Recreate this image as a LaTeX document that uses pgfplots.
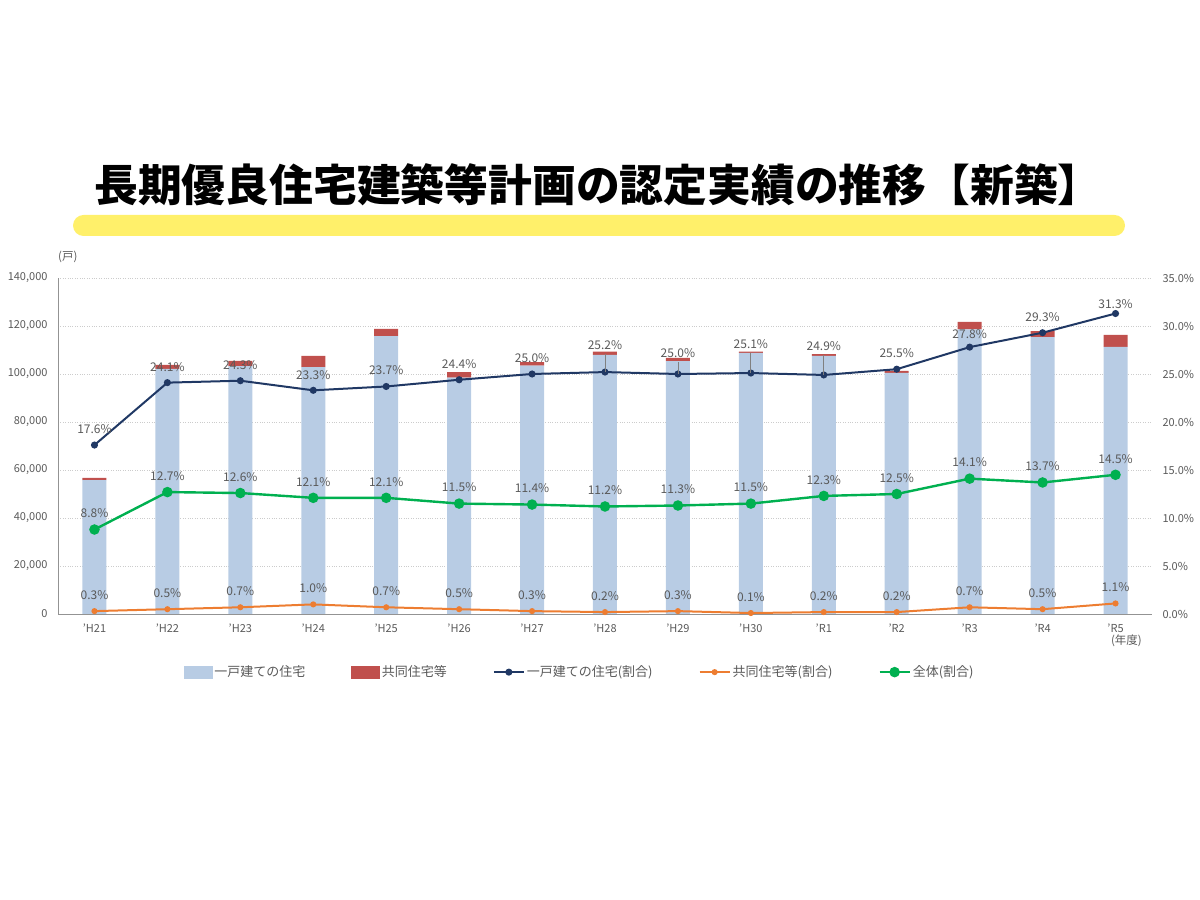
\documentclass[border=0pt]{standalone}
\usepackage{fontspec}
\setmainfont{Noto Sans CJK JP}
\usepackage{pgfplots}
\pgfplotsset{compat=1.18}
\usepackage{pgfplotstable}

\definecolor{barblue}{HTML}{B8CCE4}
\definecolor{barred}{HTML}{C0504D}
\definecolor{navy}{HTML}{203864}
\definecolor{orng}{HTML}{ED7D31}
\definecolor{grn}{HTML}{00B050}
\definecolor{txtgray}{HTML}{595959}
\definecolor{hl}{HTML}{FFF06A}

% x detached multi pdet dy lead pmul pall
\pgfplotstableread{
x detached multi pdet dy lead pmul pall
0  55800  900 17.6  7 0 0.3  8.8
1 102100 1650 24.1  7 0 0.5 12.7
2 103300 2200 24.3  7 0 0.7 12.6
3 102900 4600 23.3  6 0 1.0 12.1
4 115800 3000 23.7  7 0 0.7 12.1
5  98500 2300 24.4  7 0 0.5 11.5
6 103500 1400 25.0  7 0 0.3 11.4
7 108000 1300 25.2 18 1 0.2 11.2
8 105400 1300 25.0 12 1 0.3 11.3
9 108750  550 25.1 20 1 0.1 11.5
10 107500 800 24.9 20 1 0.2 12.3
11 100500 850 25.5  7 0 0.2 12.5
12 118600 3100 27.8 4 0 0.7 14.1
13 115400 2500 29.3 7 0 0.5 13.7
14 111250 5000 31.3 1 0 1.1 14.5
}\data

\pgfplotsset{
  base/.style={
    at={(58pt,286pt)}, anchor=south west, scale only axis,
    width=1094pt, height=336pt,
    xmin=-0.5, xmax=14.5, clip=false,
    major tick length=0pt,
    /pgf/number format/assume math mode=true,
    ticklabel style={font=\fontsize{11}{13}\selectfont, text=txtgray},
  },
  lbl/.style={
    point meta=y, nodes near coords={\pgfmathprintnumber[fixed,fixed zerofill,precision=1,assume math mode=true]{\pgfplotspointmeta}\%},
    every node near coord/.append style={font=\fontsize{12}{14}\selectfont, text=txtgray, yshift=7pt},
  },
}

\begin{document}
\begin{tikzpicture}
\path (0pt,0pt) rectangle (1200pt,900pt);
\fill[hl, rounded corners=10.5pt] (73pt,664pt) rectangle (1125pt,685pt);
\node[font=\fontsize{43.8}{47}\selectfont\bfseries] at (598pt,715pt) {長期優良住宅建築等計画の認定実績の推移【新築】};

\begin{axis}[base,
  ymin=0, ymax=140000,
  ybar stacked, bar width=24pt,
  axis x line*=bottom, axis y line*=left,
  axis line style={-, draw=gray!85, line width=0.9pt},
  ytick={0,20000,...,140000},
  yticklabel={\pgfmathprintnumber[fixed,precision=0,1000 sep={,},assume math mode=true]{\tick}},
  yticklabel style={xshift=-7pt},
  scaled y ticks=false,
  ymajorgrids, grid style={dotted, gray!40, line width=0.8pt},
  xtick={0,...,14},
  xticklabels={'H21,'H22,'H23,'H24,'H25,'H26,'H27,'H28,'H29,'H30,'R1,'R2,'R3,'R4,'R5},
  xticklabel style={yshift=-6pt},
]
\addplot[fill=barblue, draw=none] table[x=x, y=detached]{\data};
\addplot[fill=barred, draw=none] table[x=x, y=multi]{\data};
\node[font=\fontsize{11.5}{13}\selectfont, text=txtgray] at (rel axis cs:0.009,1) [yshift=21pt] {(戸)};
\node[font=\fontsize{11.5}{13}\selectfont, text=txtgray] at (axis cs:14.15,0) [yshift=-27pt] {(年度)};
\end{axis}

\begin{axis}[base,
  ymin=0, ymax=35,
  axis x line=none, axis y line*=right,
  y axis line style={draw=none},
  ytick={0,5,...,35},
  yticklabel={\pgfmathprintnumber[fixed,fixed zerofill,precision=1,assume math mode=true]{\tick}\%},
  yticklabel style={xshift=7pt},
  legend columns=5,
  legend style={draw=none, fill=none, at={(0.477,-0.173)}, anchor=center,
    font=\fontsize{13}{15}\selectfont, text=txtgray,
    nodes={inner xsep=2pt},
    /tikz/every even column/.append style={column sep=44pt}},
  legend image code/.code={\draw[mark repeat=2,mark phase=2,#1] plot coordinates {(0pt,0pt) (15pt,0pt) (30pt,0pt)};},
]
\addlegendimage{legend image code/.code={\fill[barblue] (0pt,-6pt) rectangle (28pt,6pt);}}
\addlegendentry{一戸建ての住宅}
\addlegendimage{legend image code/.code={\fill[barred] (0pt,-6pt) rectangle (28pt,6pt);}}
\addlegendentry{共同住宅等}
\addplot[navy, line width=2pt, mark=*, mark size=2.5pt, lbl,
  visualization depends on={\thisrow{dy} \as \dy},
  visualization depends on={\thisrow{lead} \as \lead},
  every node near coord/.append style={yshift=\dy pt - 7pt,
    append after command={(\tikzlastnode.south) edge[draw=gray, line width=0.8pt, -] ([yshift=-\lead*\dy pt]\tikzlastnode.south)}}]
  table[x=x, y=pdet]{\data};
\addlegendentry{一戸建ての住宅(割合)}
\addplot[orng, line width=2pt, mark=*, mark size=2pt, lbl] table[x=x, y=pmul]{\data};
\addlegendentry{共同住宅等(割合)}
\addplot[grn, line width=2.4pt, mark=*, mark size=4pt, lbl] table[x=x, y=pall]{\data};
\addlegendentry{全体(割合)}
\end{axis}
\end{tikzpicture}
\end{document}
